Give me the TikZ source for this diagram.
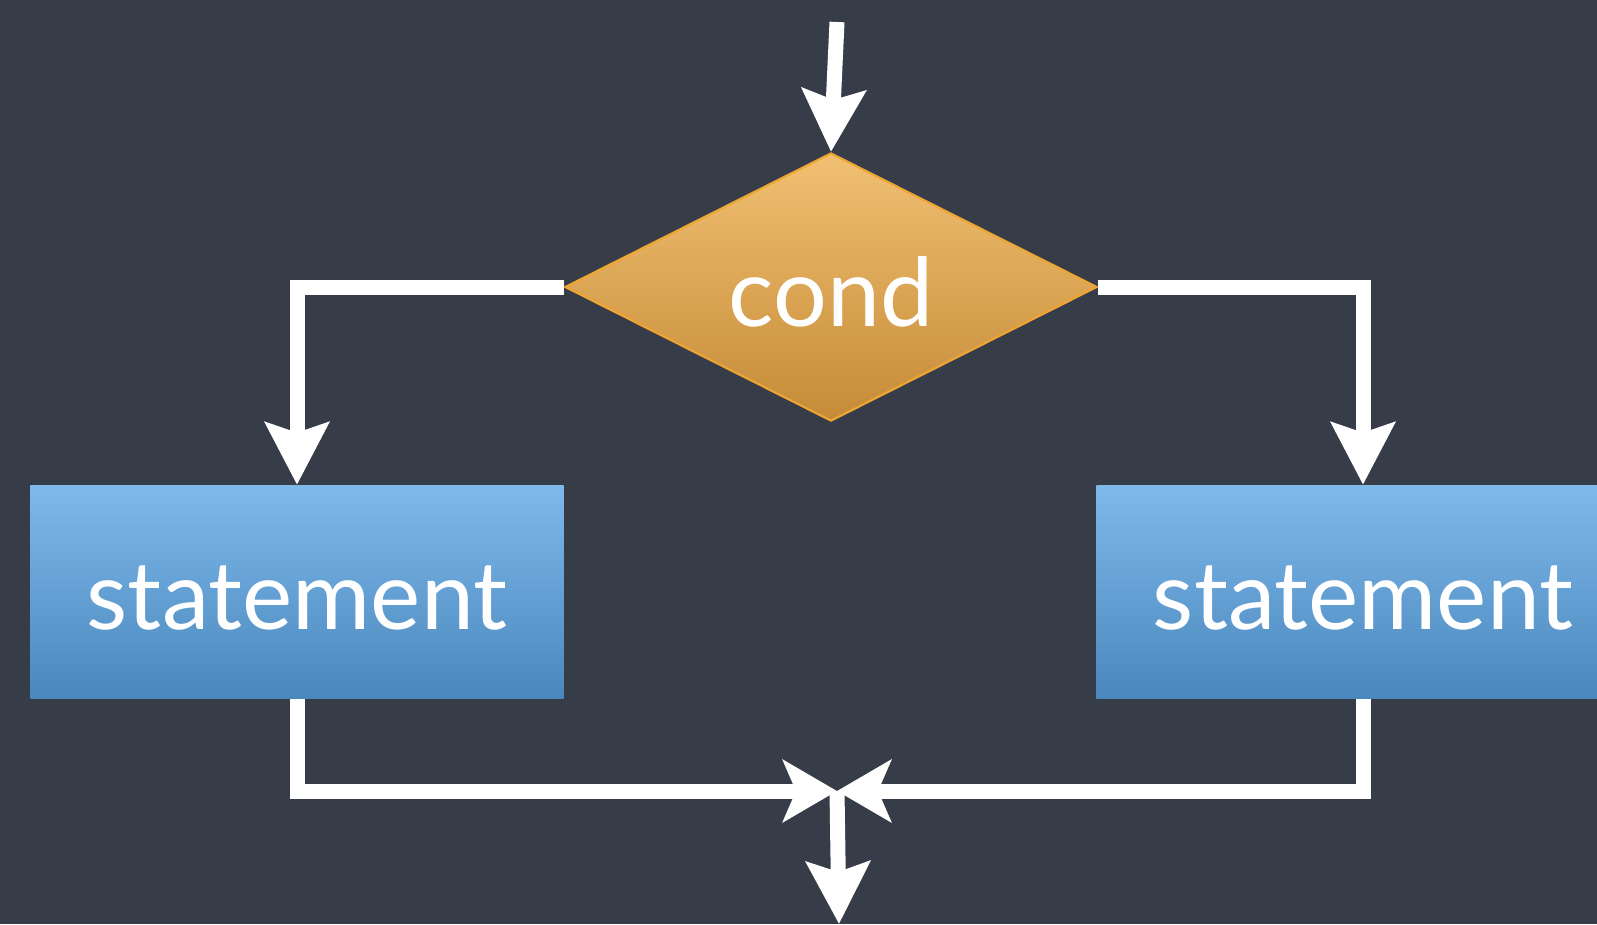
\documentclass[tikz,border=0pt]{standalone}
\usepackage{fontspec}
\setmainfont{Lato}
\usetikzlibrary{shapes.geometric,arrows.meta}
\definecolor{flowBg}{RGB}{54,61,72}
\definecolor{condTop}{RGB}{241,192,114}
\definecolor{condBot}{RGB}{197,139,56}
\definecolor{condEdge}{RGB}{238,165,50}
\definecolor{stmtTop}{RGB}{127,185,234}
\definecolor{stmtBot}{RGB}{73,135,189}
\tikzset{
  condshape/.style={diamond, aspect=2, inner sep=0pt, minimum width=5.32cm,
    minimum height=2.68cm, top color=condTop, bottom color=condBot,
    draw=condEdge, line width=0.6pt, text=white,
    text height=0.78cm, text depth=0pt},
  stmtbox/.style={rectangle, inner sep=0pt, minimum width=5.33cm,
    minimum height=2.13cm, top color=stmtTop, bottom color=stmtBot,
    text=white, text height=0.74cm, text depth=0pt},
  flowline/.style={draw=white, line width=0.15cm,
    -{Stealth[length=0.62cm, width=0.63cm, inset=0.1cm]}},
  mergeline/.style={flowline,
    -{Stealth[length=0.54cm, width=0.62cm, inset=0.13cm]}},
}
\begin{document}
\begin{tikzpicture}[x=0.01cm, y=-0.01cm, font=\fontsize{27}{32}\selectfont]
% background and page size
\fill[flowBg] (0,0) rectangle (1597,924);
\useasboundingbox (0,0) rectangle (1597,924);
\clip (0,0) rectangle (1597,924);
% blocks
\node[condshape] (cond) at (831,287) {cond};
\node[stmtbox] (lstmt) at (297,592) {statement};
\node[stmtbox] (rstmt) at (1363,592) {statement};
\coordinate (entry) at (837,22);
\coordinate (merge) at (837,791);
\coordinate (exit) at (839,924);
% connectors
\draw[flowline] (entry) -- (cond.north);
\draw[flowline] (cond.west) -| (lstmt.north);
\draw[flowline] (cond.east) -| (rstmt.north);
\draw[mergeline] (lstmt.south) |- (merge);
\draw[mergeline] (rstmt.south) |- (merge);
\draw[flowline] (merge) -- (exit);
\end{tikzpicture}
\end{document}
